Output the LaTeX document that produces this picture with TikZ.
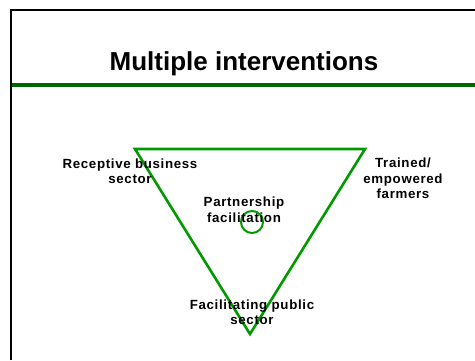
\documentclass[tikz,border=0pt]{standalone}
\usepackage{fontspec}
\setmainfont{Liberation Sans}
\newfontfamily\labelfont[LetterSpace=5]{Liberation Sans}
\definecolor{rulegreen}{RGB}{0,102,0}
\definecolor{trigreen}{RGB}{0,153,0}
\begin{document}
\begin{tikzpicture}[x=1pt,y=-1pt,
  lbl/.style={font=\labelfont\bfseries\fontsize{13.3}{15.5}\selectfont, align=center, inner sep=0pt},
  ttl/.style={font=\bfseries\fontsize{26}{30}\selectfont, inner sep=0pt}]
\useasboundingbox (0,0) rectangle (475,360);
% slide frame and title rule
\draw[line width=2pt] (11,360) -- (11,10) -- (475,10);
\draw[rulegreen, line width=4pt] (12,84.7) -- (475,84.7);
\node[ttl] (title) at (244,63.5) {Multiple interventions};
% triangle of actors
\coordinate (tl) at (135,149);
\coordinate (tr) at (365,149);
\coordinate (bt) at (250,334);
\draw[trigreen, line width=2.6pt, line join=miter] (tl) -- (tr) -- (bt) -- cycle;
\node[draw=trigreen, line width=2pt, circle, minimum size=22pt, inner sep=0pt] (hub) at (252,222) {};
\node[lbl] (business) at (130,171) {Receptive business\\sector};
\node[lbl] (farmers) at (403,178.5) {Trained/\\empowered\\farmers};
\node[lbl] (partner) at (244,209.5) {Partnership\\facilitation};
\node[lbl] (public) at (252,312) {Facilitating public\\sector};
\end{tikzpicture}
\end{document}
